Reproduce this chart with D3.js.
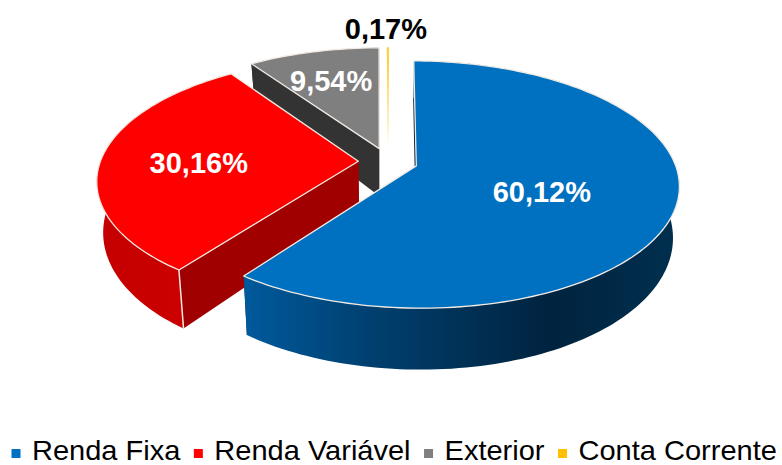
<!DOCTYPE html>
<html>
<head>
<meta charset="utf-8">
<script src="https://cdn.jsdelivr.net/npm/d3@7"></script>
<style>
  html, body { margin: 0; padding: 0; background: #fff; }
  svg { display: block; font-family: "Liberation Sans", Arial, sans-serif; }
</style>
</head>
<body>
<div id="chart"></div>
<script>
// Data
const categories = ["Renda Fixa", "Renda Variável", "Exterior", "Conta Corrente"];
const values = [60.12, 30.16, 9.54, 0.17];
const labels = ["60,12%", "30,16%", "9,54%", "0,17%"];

const width = 782;
const height = 465;

// Pie geometry: a tilted disc seen in perspective
const cx = 388;
const cy = 161.5;
const radiusX = 258;
const radiusY = 119.5;
const perspective = 0.15;
const explode = 0.115;
const shrink = 0.022; // bottom rim is a little narrower than the top
const rotation = 0.005;

const colors = ["#0070c0", "#ff0000", "#7f7f7f", "#ffc000"];
const radialFace = ["#00233f", "#a00000", "#333333", "none"];
const rimStops = [
    [["0%", "#005a9c"], ["30%", "#003f6e"], ["70%", "#00233f"], ["100%", "#00304f"]],
    [["0%", "#c40000"], ["100%", "#d00000"]],
    [["0%", "#333333"], ["100%", "#333333"]],
    [["0%", "#ffffff"], ["100%", "#ffffff"]]
];
const edgeColor = "#f2ebe4";

const svg = d3.select("#chart")
    .append("svg")
    .attr("viewBox", [0, 0, width, height])
    .attr("width", width)
    .attr("height", height);

const arcs = d3.pie()
    .sort(null)
    .startAngle(rotation)
    .endAngle(2 * Math.PI + rotation)(values);

// Plane coordinates of a point in a slice, pushed out along its mid angle
function planePoint(d, angle, r) {
    const mid = (d.startAngle + d.endAngle) / 2;
    return [
        explode * Math.sin(mid) + r * Math.sin(angle),
        -explode * Math.cos(mid) - r * Math.cos(angle)
    ];
}

// Screen position; lift 0 is the top face and lift 1 the bottom of the rim
function project([px, py], lift) {
    const w = 1 / (1 - perspective * py);
    const squeeze = 1 - shrink * lift;
    return [
        cx + px * radiusX * w * squeeze,
        cy + py * radiusY * w + lift * (49 + 12 * py)
    ];
}

const line = d3.line();

function rimAngles(d) {
    const steps = Math.max(2, Math.ceil((d.endAngle - d.startAngle) * 40));
    return d3.range(steps + 1).map(i => d.startAngle + (d.endAngle - d.startAngle) * i / steps);
}

function topPath(d) {
    const ring = rimAngles(d).map(a => project(planePoint(d, a, 1), 0));
    return line([project(planePoint(d, 0, 0), 0), ...ring]) + "Z";
}

function rimPath(d) {
    const top = rimAngles(d).map(a => project(planePoint(d, a, 1), 0));
    const bottom = rimAngles(d).map(a => project(planePoint(d, a, 1), 1)).reverse();
    return line([...top, ...bottom]) + "Z";
}

function radialPath(d, angle) {
    return line([
        project(planePoint(d, 0, 0), 0),
        project(planePoint(d, angle, 1), 0),
        project(planePoint(d, angle, 1), 1),
        project(planePoint(d, 0, 0), 1)
    ]) + "Z";
}

function cornerPath(d) {
    return line([
        project(planePoint(d, d.startAngle, 1), 0),
        project(planePoint(d, d.startAngle, 1), 1)
    ]);
}

// Horizontal gradients for the rims
const defs = svg.append("defs");
arcs.forEach((d, i) => {
    const xs = rimAngles(d).map(a => project(planePoint(d, a, 1), 0)[0]);
    const grad = defs.append("linearGradient")
        .attr("id", `rim${i}`)
        .attr("gradientUnits", "userSpaceOnUse")
        .attr("x1", d3.min(xs))
        .attr("x2", d3.max(xs))
        .attr("y1", 0)
        .attr("y2", 0);
    grad.selectAll("stop")
        .data(rimStops[i])
        .join("stop")
        .attr("offset", s => s[0])
        .attr("stop-color", s => s[1]);
});

// Back slices first so the front ones cover them
const order = [2, 3, 1, 0];
const slices = svg.append("g")
    .selectAll("g")
    .data(order)
    .join("g");

slices.append("path")
    .attr("d", i => radialPath(arcs[i], arcs[i].startAngle))
    .attr("fill", i => radialFace[i]);
slices.append("path")
    .attr("d", i => radialPath(arcs[i], arcs[i].endAngle))
    .attr("fill", i => radialFace[i]);
slices.filter(i => i !== 3).append("path")
    .attr("d", i => rimPath(arcs[i]))
    .attr("fill", i => `url(#rim${i})`);
slices.append("path")
    .attr("d", i => topPath(arcs[i]))
    .attr("fill", i => colors[i])
    .attr("fill-opacity", i => i === 3 ? 0.75 : 1)
    .attr("stroke", i => i === 3 ? "none" : edgeColor)
    .attr("stroke-width", 1.3)
    .attr("stroke-linejoin", "round");

// Pale line down the front corner of the red and blue rims
slices.filter(i => i < 2).append("path")
    .attr("d", i => cornerPath(arcs[i]))
    .attr("fill", "none")
    .attr("stroke", edgeColor)
    .attr("stroke-width", i => i === 1 ? 1.5 : 0.7);

// Value labels sit on each slice, the smallest one above it
const labelRadius = [0.53, 0.62, 0.72, 1.15];
const labelNudge = [[-9, 5], [0, 3], [1, 4], [-2, -6]];
svg.append("g")
    .selectAll("text")
    .data(arcs)
    .join("text")
    .attr("transform", (d, i) => {
        const mid = (d.startAngle + d.endAngle) / 2;
        const [x, y] = project(planePoint(d, mid, labelRadius[i]), 0);
        return `translate(${x + labelNudge[i][0]},${y + labelNudge[i][1]})`;
    })
    .attr("text-anchor", "middle")
    .attr("dy", "0.35em")
    .attr("font-size", 29)
    .attr("font-weight", "bold")
    .attr("fill", (d, i) => i === 3 ? "#000" : "#fff")
    .text((d, i) => labels[i]);

// Legend, laid out from the measured text widths
const legendStretch = 1.075;
const legend = svg.append("g");
let legendX = 11.5;
categories.forEach((name, i) => {
    legend.append("rect")
        .attr("x", legendX)
        .attr("y", 449)
        .attr("width", 9)
        .attr("height", 9)
        .attr("fill", colors[i]);
    const label = legend.append("text")
        .attr("transform", `translate(${legendX + 20.5},459.5) scale(${legendStretch},1)`)
        .attr("font-size", 27)
        .attr("fill", "#000")
        .text(name);
    legendX += 20.5 + label.node().getComputedTextLength() * legendStretch + 13.5;
});
</script>
</body>
</html>
